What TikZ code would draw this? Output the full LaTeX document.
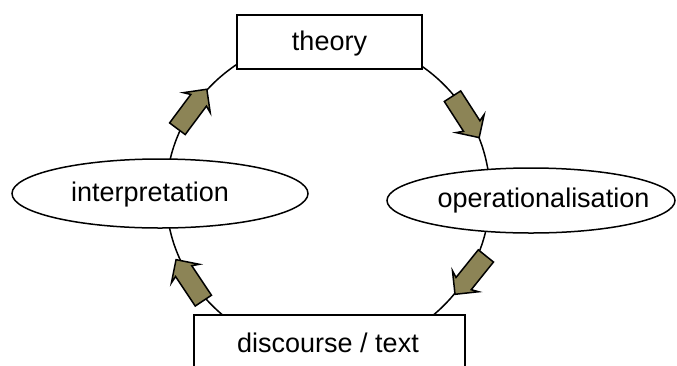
\documentclass[tikz,border=0pt]{standalone}
\usepackage{fontspec}
\setmainfont{Liberation Sans}
\usetikzlibrary{shapes.geometric,shapes.arrows}
\definecolor{olivearrow}{RGB}{140,132,86}
\tikzset{
  lbl/.style={font=\fontsize{27}{32}\selectfont, inner sep=0pt},
  boxnode/.style={draw=black, fill=white, line width=1.5pt, inner sep=0pt},
  ovalnode/.style={ellipse, draw=black, fill=white, line width=1.5pt, inner sep=0pt},
  cyclearrow/.style={single arrow, draw=black, fill=olivearrow, line width=1.5pt,
    inner xsep=19pt, inner ysep=9pt, single arrow head extend=7pt,
    single arrow head indent=3pt, line join=miter}
}
\begin{document}
\begin{tikzpicture}[x=1pt,y=-1pt]
\useasboundingbox (0,0) rectangle (677,365);
\clip (0,0) rectangle (677,365);
% cycle line
\node[ellipse, draw=black, line width=1.5pt, minimum width=324pt, minimum height=316pt, inner sep=0pt] (cycle) at (328,195) {};
% boxes
\node[boxnode, minimum width=185pt, minimum height=54pt] (theory) at (329.5,42) {};
\node[lbl] (theoryT) at (329.5,44) {theory};
\node[boxnode, minimum width=271pt, minimum height=56pt] (discourse) at (329.5,343) {};
\node[lbl] (discourseT) at (328,343) {discourse / text};
% ellipses
\node[ovalnode, minimum width=296pt, minimum height=69pt] (interp) at (160,193.5) {};
\node[lbl] (interpT) at (150,194.5) {interpretation};
\node[ovalnode, minimum width=288pt, minimum height=65pt] (oper) at (531,200.5) {};
\node[lbl] (operT) at (543.5,201) {operationalisation};
% arrows
\node[cyclearrow, rotate=53.3] (a1) at (189.2,112.9) {};
\node[cyclearrow, rotate=-57.2] (a2) at (463.2,112.8) {};
\node[cyclearrow, rotate=231.2] (a3) at (473.5,271.3) {};
\node[cyclearrow, rotate=123.7] (a4) at (192.4,284.2) {};
\end{tikzpicture}
\end{document}
